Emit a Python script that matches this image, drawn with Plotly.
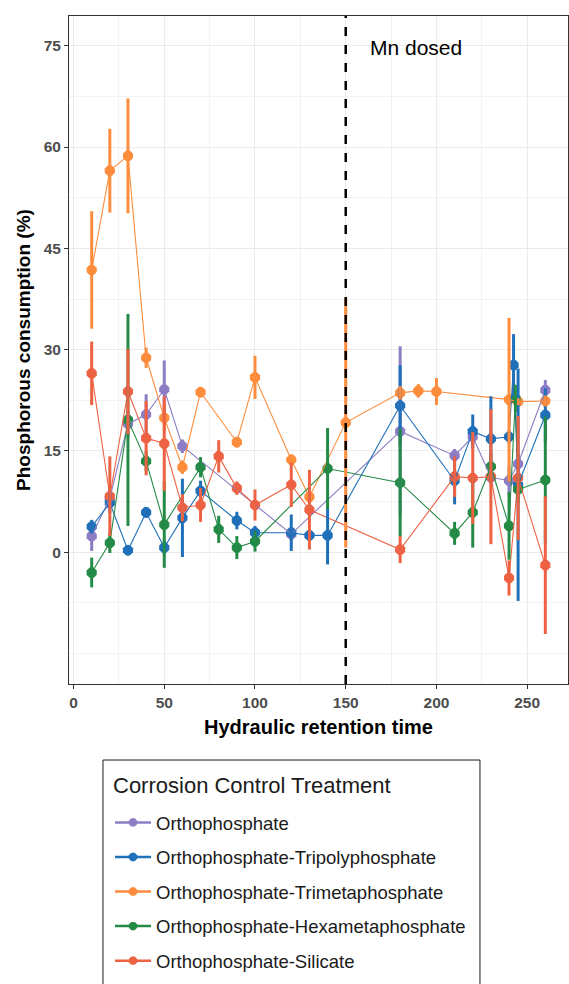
import plotly.graph_objects as go

# Hydraulic retention time (x) and mean phosphorous consumption (%) with error (+/-) per treatment
ortho_x = [10, 20, 30, 40, 50, 60, 120, 180, 210, 220, 230, 240, 245, 260]
ortho_y = [2.4, 8.0, 19.0, 20.4, 24.1, 15.7, 2.7, 17.9, 14.3, 17.1, 11.1, 10.6, 13.1, 24.0]
ortho_err = [2.2, 1.5, 2.0, 3.0, 4.3, 1.0, 1.0, 12.6, 1.0, 1.0, 1.0, 2.1, 1.5, 1.5]

tripoly_x = [10, 20, 30, 40, 50, 60, 70, 90, 100, 120, 130, 140, 180, 210, 220, 230, 240, 242.5, 245, 260]
tripoly_y = [3.8, 7.3, 0.3, 5.9, 0.7, 5.1, 9.1, 4.7, 2.9, 2.9, 2.5, 2.5, 21.7, 10.6, 17.9, 16.8, 17.1, 27.7, 10.0, 20.3]
tripoly_err = [1.0, 1.5, 0.8, 0.8, 1.0, 5.8, 1.5, 1.3, 1.0, 2.7, 0.8, 4.3, 6.0, 3.5, 2.5, 6.3, 1.0, 4.6, 17.2, 4.0]

trimeta_x = [10, 20, 30, 40, 50, 60, 70, 90, 100, 120, 130, 150, 180, 190, 200, 240, 245, 260]
trimeta_y = [41.8, 56.5, 58.7, 28.8, 19.9, 12.6, 23.7, 16.3, 25.9, 13.7, 8.2, 19.2, 23.6, 23.9, 23.8, 22.6, 22.3, 22.4]
trimeta_err = [8.7, 6.2, 8.5, 1.5, 2.0, 1.0, 0.8, 0.8, 3.2, 0.8, 1.0, 18.5, 1.0, 1.0, 2.0, 12.1, 0.5, 0.8]

hexameta_x = [10, 20, 30, 40, 50, 70, 80, 90, 100, 140, 180, 210, 220, 230, 240, 243.5, 245, 260]
hexameta_y = [-3.0, 1.4, 19.6, 13.5, 4.1, 12.6, 3.4, 0.7, 1.6, 12.4, 10.3, 2.8, 5.9, 12.7, 3.9, 22.8, 9.3, 10.7]
hexameta_err = [2.2, 1.5, 15.7, 1.5, 6.4, 1.5, 2.0, 1.7, 1.5, 6.0, 8.0, 1.7, 5.2, 2.0, 5.0, 2.0, 2.0, 9.4]

silicate_x = [10, 20, 30, 40, 50, 60, 70, 80, 90, 100, 120, 130, 180, 210, 220, 230, 240, 245, 260]
silicate_y = [26.5, 8.3, 23.8, 16.9, 16.1, 6.6, 7.0, 14.2, 9.5, 7.0, 10.0, 6.3, 0.4, 11.2, 11.0, 11.2, -3.8, 11.0, -1.9]
silicate_err = [4.7, 5.9, 6.3, 5.5, 7.0, 2.0, 2.5, 2.4, 1.0, 2.3, 3.3, 5.9, 2.0, 3.0, 6.8, 10.0, 2.6, 9.2, 10.2]

series_names = [
    "Orthophosphate",
    "Orthophosphate-Tripolyphosphate",
    "Orthophosphate-Trimetaphosphate",
    "Orthophosphate-Hexametaphosphate",
    "Orthophosphate-Silicate",
]
series_colors = ["#8C7DC4", "#1F70B8", "#FD8D3C", "#238B45", "#EE6244"]
legend_title = "Corrosion Control Treatment"

y_ticks = [0, 15, 30, 45, 60, 75]
y_minor = [-15, -7.5, 7.5, 22.5, 37.5, 52.5, 67.5]
x_ticks = [0, 50, 100, 150, 200, 250]
x_minor = [25, 75, 125, 175, 225]

mn_dose_time = 150

series = [
    (ortho_x, ortho_y, ortho_err),
    (tripoly_x, tripoly_y, tripoly_err),
    (trimeta_x, trimeta_y, trimeta_err),
    (hexameta_x, hexameta_y, hexameta_err),
    (silicate_x, silicate_y, silicate_err),
]

FONT = "Liberation Sans, Arial, sans-serif"

fig = go.Figure()

# Layer 1: points of every treatment
for (xs, ys, es), name, color in zip(series, series_names, series_colors):
    fig.add_trace(go.Scatter(
        x=xs, y=ys, mode="markers", showlegend=False, hoverinfo="skip",
        marker=dict(color=color, size=11, symbol="octagon", line=dict(width=0)),
    ))

# Layer 2: connecting lines
for (xs, ys, es), name, color in zip(series, series_names, series_colors):
    fig.add_trace(go.Scatter(
        x=xs, y=ys, mode="lines", showlegend=False,
        line=dict(color=color, width=1.1),
    ))

# Layer 3: vertical error ranges
for (xs, ys, es), name, color in zip(series, series_names, series_colors):
    fig.add_trace(go.Scatter(
        x=xs, y=ys, mode="markers", showlegend=False, hoverinfo="skip",
        marker=dict(size=0.1, opacity=0),
        error_y=dict(type="data", array=es, visible=True, thickness=3, width=0, color=color),
    ))

# Legend entries (line + point key)
for name, color in zip(series_names, series_colors):
    fig.add_trace(go.Scatter(
        x=[None], y=[None], mode="lines+markers", name=name, legendgroup=name,
        line=dict(color=color, width=2.5),
        marker=dict(color=color, size=9, symbol="octagon"),
    ))

fig.add_vline(x=mn_dose_time, line=dict(color="black", width=2.5, dash="dash"), layer="above")

fig.add_annotation(
    x=189, y=74.7, xref="x", yref="y", text="Mn dosed", showarrow=False,
    font=dict(family=FONT, size=21, color="black"),
)

# Legend frame and heading
fig.add_shape(
    type="rect", xref="paper", yref="paper",
    x0=0.0681, x1=0.8236, y0=-0.47, y1=-0.1138,
    line=dict(color="#1a1a1a", width=1), fillcolor="white", layer="below",
)
fig.add_annotation(
    x=0.085, y=-0.1512, xref="paper", yref="paper", xanchor="left", yanchor="middle",
    text=legend_title, showarrow=False,
    font=dict(family=FONT, size=22, color="#1a1a1a"),
)

axis_common = dict(
    showline=True, linecolor="#333333", linewidth=1, mirror=True,
    ticks="outside", ticklen=4, tickcolor="#333333",
    showgrid=True, gridcolor="#EBEBEB", gridwidth=1.3, zeroline=False,
    tickfont=dict(family=FONT, size=15.5, color="#4D4D4D", weight="bold"),
)

fig.update_xaxes(
    range=[-2.5, 272.5], tickmode="array", tickvals=x_ticks,
    minor=dict(tickmode="array", tickvals=x_minor, showgrid=True, gridcolor="#F2F2F2", gridwidth=0.8, ticklen=0),
    title=dict(text="<b>Hydraulic retention time</b>", font=dict(family=FONT, size=20, color="black"), standoff=10),
    **axis_common,
)
fig.update_yaxes(
    range=[-19.5, 79.4], tickmode="array", tickvals=y_ticks,
    minor=dict(tickmode="array", tickvals=y_minor, showgrid=True, gridcolor="#F2F2F2", gridwidth=0.8, ticklen=0),
    title=dict(text="<b>Phosphorous consumption (%)</b>", font=dict(family=FONT, size=19, color="black"), standoff=8),
    **axis_common,
)

fig.update_layout(
    width=569, height=984,
    margin=dict(l=69, r=1, t=16, b=300, autoexpand=False),
    plot_bgcolor="white", paper_bgcolor="white",
    font=dict(family=FONT),
    showlegend=True,
    legend=dict(
        font=dict(family=FONT, size=18.5, color="#1a1a1a"),
        x=0.0822, xanchor="left", y=-0.1795, yanchor="top",
        orientation="v",
        borderwidth=0, bgcolor="rgba(0,0,0,0)",
        tracegroupgap=7.5, itemwidth=36,
    ),
)

fig.write_html("out.html")
